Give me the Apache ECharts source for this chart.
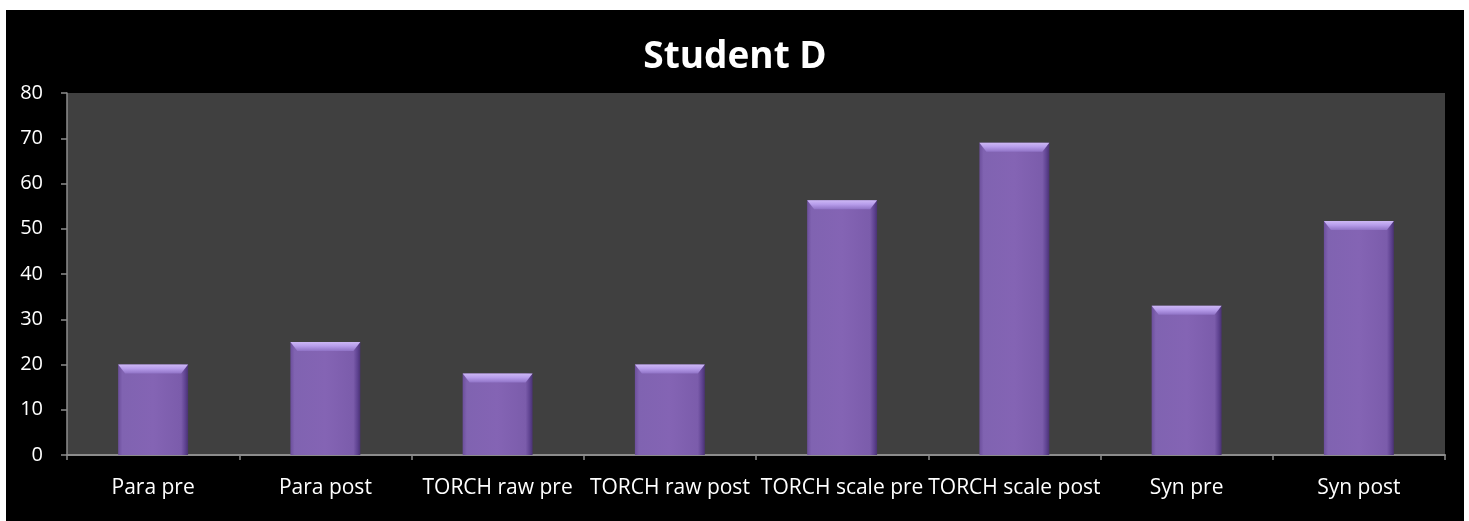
<!DOCTYPE html>
<html>
<head>
<meta charset="utf-8">
<script src="https://cdn.jsdelivr.net/npm/echarts@6/dist/echarts.min.js"></script>
<style>
  html, body { margin: 0; padding: 0; background: #ffffff; }
  #chart { position: absolute; left: 6px; top: 10px; width: 1458px; height: 511px; background: #000000; }
</style>
</head>
<body>
<div id="chart"></div>
<script>
const titleText = 'Student D';
const categories = ['Para pre', 'Para post', 'TORCH raw pre', 'TORCH raw post', 'TORCH scale pre', 'TORCH scale post', 'Syn pre', 'Syn post'];
const values = [20, 25, 18, 20, 56.3, 69, 33, 51.7];
const yTicks = { min: 0, max: 80, interval: 10 };

const chart = echarts.init(document.getElementById('chart'), null, { renderer: 'canvas' });
const axisGrey = '#8c8c8c';
const font = 'Open Sans';

chart.setOption({
  backgroundColor: '#000000',
  animation: false,
  title: {
    text: titleText,
    left: 'center',
    top: 29,
    padding: 0,
    textStyle: { color: '#ffffff', fontFamily: font, fontWeight: 'bold', fontSize: 37 }
  },
  grid: {
    left: 61, right: 19, top: 83, bottom: 66,
    show: true, backgroundColor: '#404040', borderWidth: 0
  },
  xAxis: {
    type: 'category',
    data: categories,
    boundaryGap: true,
    axisLine: { show: true, lineStyle: { color: axisGrey, width: 2 } },
    axisTick: { show: true, length: 5, inside: false, alignWithLabel: false, lineStyle: { color: axisGrey, width: 1.5 } },
    axisLabel: { color: '#ffffff', fontFamily: font, fontSize: 21, margin: 23, interval: 0 },
    splitLine: { show: false }
  },
  yAxis: {
    type: 'value',
    min: yTicks.min, max: yTicks.max, interval: yTicks.interval,
    axisLine: { show: true, lineStyle: { color: axisGrey, width: 1.5 } },
    axisTick: { show: true, length: 6, lineStyle: { color: axisGrey, width: 1.5 } },
    axisLabel: { color: '#ffffff', fontFamily: font, fontSize: 20, margin: 24 },
    splitLine: { show: false }
  },
  series: [
    {
      type: 'bar',
      data: values,
      barWidth: '40.6%',
      barGap: '-100%',
      itemStyle: {
        color: new echarts.graphic.LinearGradient(0, 0, 1, 0, [
          { offset: 0, color: '#6c4f9c' },
          { offset: 0.06, color: '#8063b1' },
          { offset: 0.5, color: '#8464b4' },
          { offset: 0.9, color: '#7b5cab' },
          { offset: 0.96, color: '#5e4290' },
          { offset: 1, color: '#4a3273' }
        ])
      },
      z: 2
    },
    {
      type: 'pictorialBar',
      data: values,
      barWidth: '40.6%',
      barGap: '-100%',
      symbol: 'path://M0,0 L100,0 L90,100 L10,100 Z',
      symbolKeepAspect: false,
      symbolSize: ['100%', 9],
      symbolPosition: 'end',
      itemStyle: {
        color: new echarts.graphic.LinearGradient(0, 0, 0, 1, [
          { offset: 0, color: '#cdb8f5' },
          { offset: 0.45, color: '#b79deb' },
          { offset: 1, color: '#9073c6' }
        ])
      },
      z: 3
    }
  ]
});
</script>
</body>
</html>
